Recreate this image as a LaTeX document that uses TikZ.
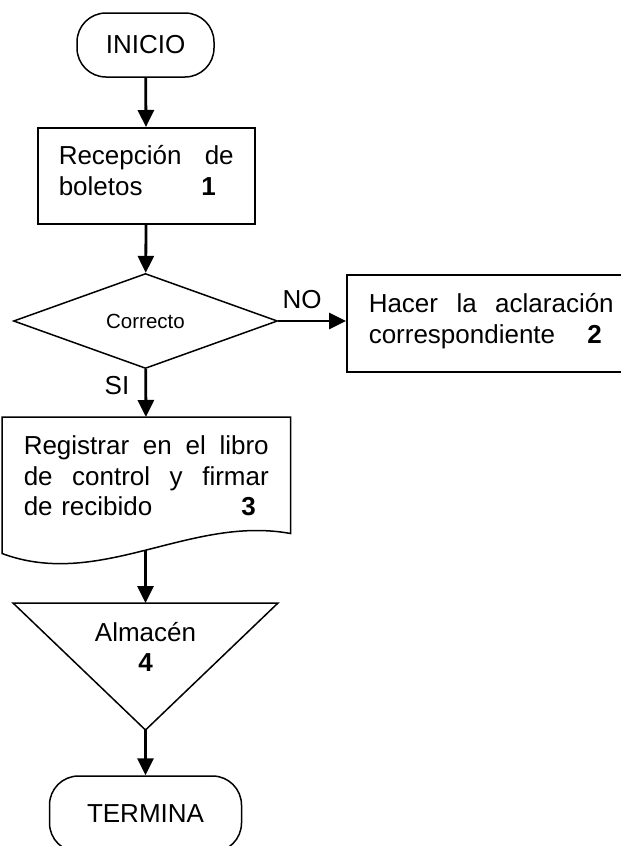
\documentclass[tikz,border=0pt]{standalone}
\usepackage{fontspec}
\setmainfont{Liberation Sans}
\usetikzlibrary{arrows.meta, shapes.geometric}

\tikzset{
  borde/.style={draw=black, line width=1.5pt},
  caja/.style={borde, rectangle, anchor=north west, inner ysep=0pt, text height=37pt},
  ovalo/.style={borde, rounded corners=29pt, minimum height=64pt},
  flecha/.style={line width=2.8pt, -{Triangle[length=17pt,width=16pt]}},
}

\begin{document}
\begin{tikzpicture}[x=1pt, y=-1pt, font=\fontsize{26}{30.5}\selectfont]
    \clip (0,0) rectangle (621,846);
    \node[ovalo, minimum width=137pt] (ini) at (145.5,45) {INICIO};
    \node[caja, text width=175pt, inner xsep=21pt, text depth=59pt] (rec) at (37,127) {Recepción\hfill de\\boletos\hfill\textbf{1}\hspace*{18pt}\mbox{}};
    \node[borde, diamond, minimum width=264pt, minimum height=95pt, inner sep=0pt, font=\fontsize{20.5}{24}\selectfont] (dec) at (145.5,321) {Correcto};
    \node[caja, text width=245pt, inner xsep=22pt, text height=38pt, text depth=59pt] (hac) at (346,274) {Hacer\hfill la\hfill aclaración\\correspondiente\hfill\textbf{2}\hspace*{12pt}\mbox{}};
    \node[caja, draw=none, text width=245pt, inner xsep=21pt, text depth=98pt] (reg) at (2,417) {Registrar\hfill en\hfill el\hfill libro\\de\hfill control\hfill y\hfill firmar\\de recibido\hfill\textbf{3}\hspace*{13pt}\mbox{}};
    \node[align=center] (alm) at (145.5,647) {Almacén\\\textbf{4}};
    \node[ovalo, minimum width=192pt, minimum height=76pt] (fin) at (145.5,814) {TERMINA};
    \node (no) at (302,300) {NO};
    \node (si) at (117,386) {SI};
    \coordinate (regbot) at (145.5,550);
    \coordinate (almtop) at (145.5,603);
    \coordinate (almbot) at (145.5,730);
    \draw[borde] (reg.north west) -- (reg.north east) -- ([yshift=20pt]reg.south east) .. controls (190,515) and (100,590) .. (reg.south west) -- cycle;
    \draw[borde] (13,603) -- (278,603) -- (almbot) -- cycle;
    \draw[flecha] (ini) -- (rec);
    \draw[flecha] (rec) -- (dec);
    \draw[flecha] (dec.east) -- (dec.east -| hac.west);
    \draw[flecha] (dec) -- (reg);
    \draw[flecha] (regbot) -- (almtop);
    \draw[flecha] (almbot) -- (fin);
\end{tikzpicture}
\end{document}
